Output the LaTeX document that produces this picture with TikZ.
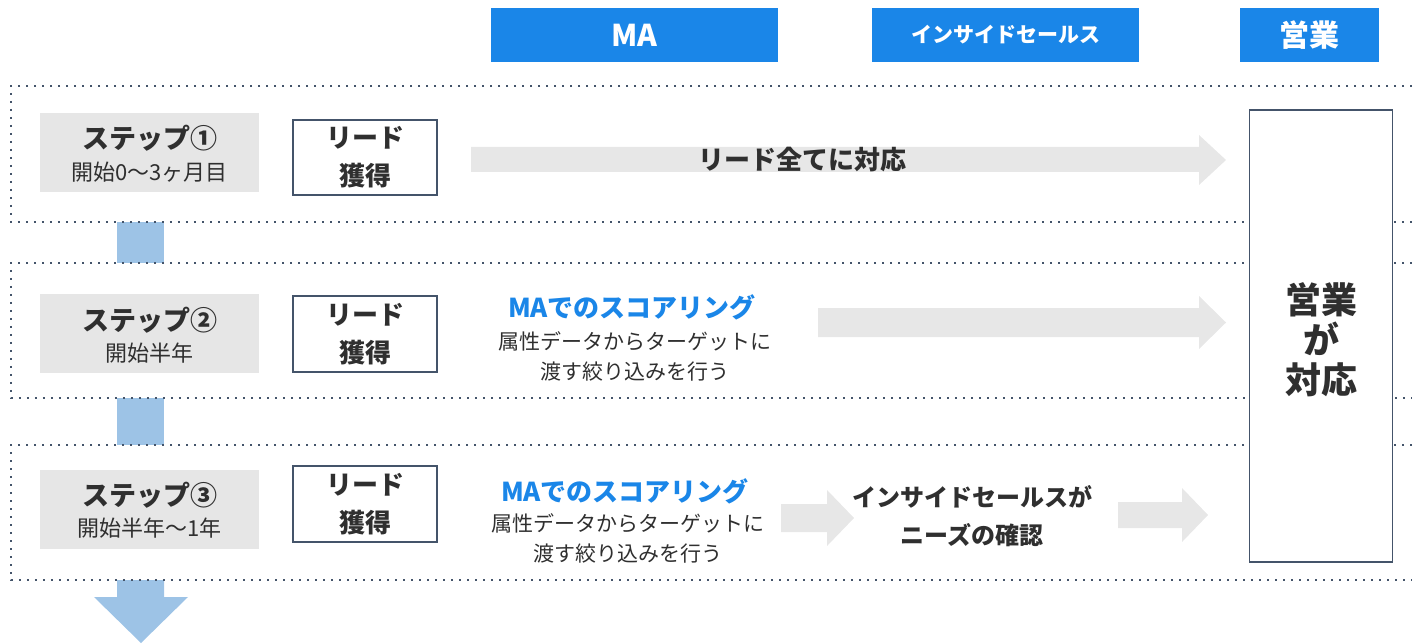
\documentclass[tikz,border=0pt]{standalone}
\usepackage{fontspec}
\setmainfont{Noto Sans CJK JP}
\definecolor{hdrblue}{HTML}{1A86E8}
\definecolor{txt}{HTML}{2F2F2F}
\definecolor{frame}{HTML}{44546A}
\definecolor{stepgray}{HTML}{E6E6E6}
\definecolor{arrgray}{HTML}{E7E7E7}
\definecolor{conn}{HTML}{9DC3E6}
\newcommand{\fs}[2]{\fontsize{#1}{#2}\selectfont}
\tikzset{
  hdr/.style={fill=hdrblue, text=white, font=\bfseries, inner sep=0pt, minimum height=54pt},
  stepbox/.style={fill=stepgray, inner sep=0pt, minimum width=219pt, minimum height=79pt},
  steptitle/.style={text=txt, inner sep=0pt, font=\bfseries\fs{27}{32}},
  stepsub/.style={text=txt, inner sep=0pt, font=\fs{22}{26}},
  leadbox/.style={draw=frame, line width=1.6pt, fill=white, text=txt, inner sep=0pt, minimum width=144pt, minimum height=75pt, align=center, font=\bfseries\fs{26}{38}},
  panel/.style={draw=frame, line width=1.6pt, dash pattern=on 1.6pt off 6.4pt},
  garrow/.style={fill=arrgray, draw=none},
  connbox/.style={fill=conn, draw=none},
  plain/.style={text=txt, inner sep=0pt, align=center},
}
\begin{document}
\begin{tikzpicture}[x=1pt, y=-1pt]
\useasboundingbox (0,0) rectangle (1412,644);

% header
\node[hdr, minimum width=287pt, font=\bfseries\fs{30}{34}] (hMA) at (634.5,35) {MA};
\node[hdr, minimum width=267pt, font=\bfseries\fs{21}{25}] (hIS) at (1005.5,35) {インサイドセールス};
\node[hdr, minimum width=139pt, font=\bfseries\fs{30}{34}] (hSales) at (1309.5,35) {営業};

% connectors between steps
\fill[connbox] (117,222) rectangle (164,263);
\fill[connbox] (117,398) rectangle (164,445);
\fill[connbox] (117,580) -- (164,580) -- (164,597) -- (188,597) -- (141,643) -- (94,597) -- (117,597) -- cycle;

% panels
\draw[panel] (1412,86) -- (11,86) -- (11,222) -- (1412,222);
\draw[panel] (1412,263) -- (11,263) -- (11,398) -- (1412,398);
\draw[panel] (1412,445) -- (11,445) -- (11,580) -- (1412,580);

% step boxes
\node[stepbox] (s1) at (149.5,152.5) {};
\node[steptitle] (s1t) at (149.5,138) {ステップ①};
\node[stepsub] (s1s) at (149.5,172) {開始0～3ヶ月目};
\node[stepbox] (s2) at (149.5,333.5) {};
\node[steptitle] (s2t) at (149.5,320) {ステップ②};
\node[stepsub] (s2s) at (149.5,353) {開始半年};
\node[stepbox] (s3) at (149.5,509) {};
\node[steptitle] (s3t) at (149.5,495) {ステップ③};
\node[stepsub] (s3s) at (149.5,528) {開始半年～1年};

% lead boxes
\node[leadbox] (l1) at (365,157.5) {リード\\獲得};
\node[leadbox, minimum height=76pt] (l2) at (365,334) {リード\\獲得};
\node[leadbox, minimum height=76pt] (l3) at (365,504) {リード\\獲得};

% sales box
\node[draw=frame, line width=1.6pt, fill=white, minimum width=143pt, minimum height=452pt, inner sep=0pt] (sales) at (1321,336) {};
\node[plain, font=\bfseries\fs{36}{40}] (salestxt) at (1321,340) {営業\\が\\対応};

% arrows
\fill[garrow] (471,147) -- (1199,147) -- (1199,135) -- (1226,160) -- (1199,185) -- (1199,172) -- (471,172) -- cycle;
\node[plain, font=\bfseries\fs{26}{30}] (a1txt) at (802,160) {リード全てに対応};

\fill[garrow] (818,308) -- (1199,308) -- (1199,296) -- (1226,322.5) -- (1199,349) -- (1199,337) -- (818,337) -- cycle;
\fill[garrow] (781,504) -- (827,504) -- (827,490) -- (854,518) -- (827,546) -- (827,532) -- (781,532) -- cycle;
\fill[garrow] (1118,502) -- (1182,502) -- (1182,488) -- (1208,515) -- (1182,542) -- (1182,528) -- (1118,528) -- cycle;

% MA texts
\node[plain, text=hdrblue, font=\bfseries\fs{26}{30}] (ma2) at (632,307) {MAでのスコアリング};
\node[plain, font=\fs{21}{30}] (ma2d) at (635,356) {属性データからターゲットに\\渡す絞り込みを行う};
\node[plain, text=hdrblue, font=\bfseries\fs{26}{30}] (ma3) at (625,491) {MAでのスコアリング};
\node[plain, font=\fs{21}{30}] (ma3d) at (628,538) {属性データからターゲットに\\渡す絞り込みを行う};

% inside sales text
\node[plain, font=\bfseries\fs{24}{38}] (is3) at (972,516) {インサイドセールスが\\ニーズの確認};
\end{tikzpicture}
\end{document}
